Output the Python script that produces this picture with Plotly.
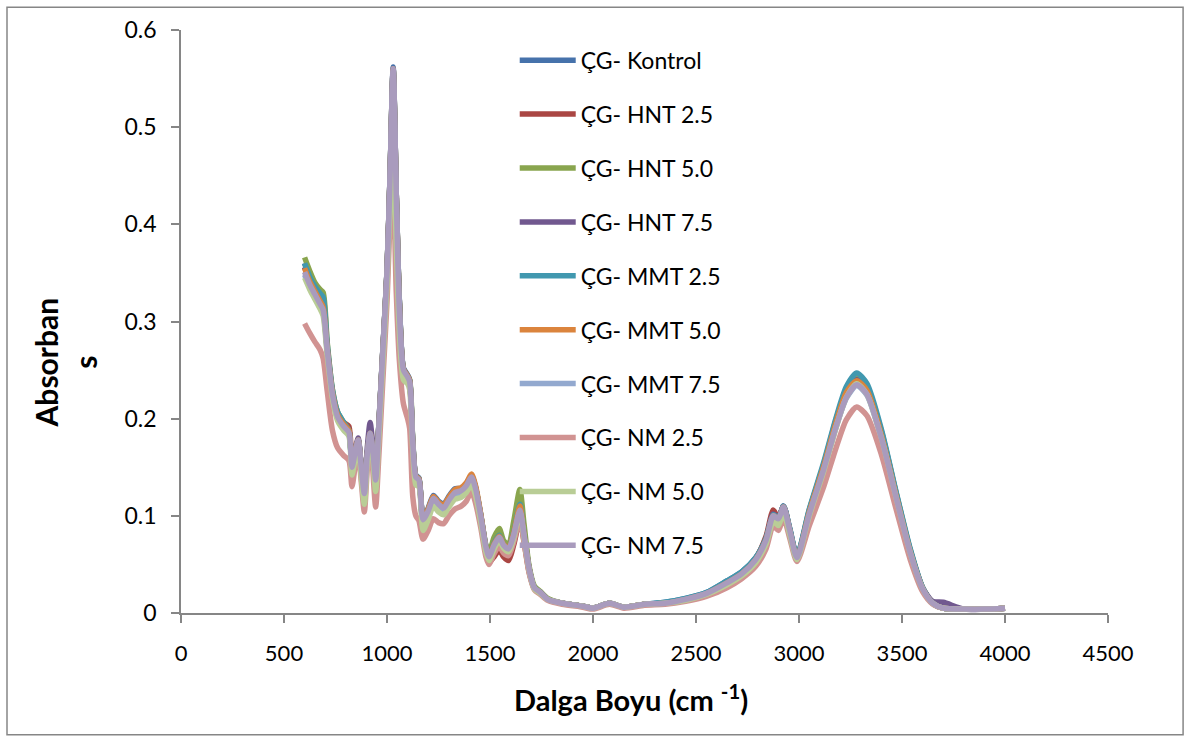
import plotly.graph_objects as go

WN = [600, 625, 650, 675, 690, 710, 735, 760, 790, 815,
      830, 845, 860, 875, 890, 905, 918, 930, 945, 960,
      980, 1000, 1015, 1030, 1045, 1060, 1080, 1100, 1110, 1125,
      1140, 1155, 1175, 1200, 1225, 1250, 1275, 1300, 1330, 1360,
      1385, 1410, 1430, 1455, 1480, 1495, 1520, 1545, 1565, 1590,
      1615, 1645, 1665, 1690, 1715, 1745, 1780, 1850, 1950, 2000,
      2080, 2150, 2250, 2350, 2450, 2550, 2650, 2720, 2790, 2840,
      2875, 2900, 2925, 2955, 2990, 3050, 3120, 3180, 3230, 3280,
      3330, 3400, 3470, 3540, 3600, 3650, 3700, 3800, 3900, 4000]

kontrol = [0.360, 0.345, 0.333, 0.322, 0.316, 0.272, 0.228, 0.205, 0.195, 0.188,
           0.152, 0.167, 0.178, 0.150, 0.124, 0.166, 0.186, 0.170, 0.138, 0.192,
           0.272, 0.352, 0.452, 0.562, 0.432, 0.322, 0.252, 0.245, 0.240, 0.178,
           0.142, 0.139, 0.098, 0.108, 0.121, 0.115, 0.112, 0.120, 0.128, 0.128,
           0.133, 0.141, 0.129, 0.101, 0.069, 0.058, 0.071, 0.080, 0.071, 0.067,
           0.084, 0.114, 0.084, 0.046, 0.026, 0.021, 0.014, 0.010, 0.007, 0.005,
           0.010, 0.006, 0.009, 0.011, 0.015, 0.021, 0.033, 0.042, 0.057, 0.077,
           0.101, 0.098, 0.110, 0.087, 0.059, 0.106, 0.153, 0.199, 0.230, 0.244,
           0.233, 0.187, 0.125, 0.065, 0.026, 0.010, 0.005, 0.004, 0.004, 0.005]

hnt25 = [0.356, 0.342, 0.331, 0.320, 0.314, 0.271, 0.226, 0.204, 0.196, 0.192,
         0.150, 0.165, 0.177, 0.148, 0.120, 0.164, 0.184, 0.168, 0.134, 0.188,
         0.268, 0.348, 0.448, 0.555, 0.428, 0.318, 0.248, 0.241, 0.236, 0.172,
         0.138, 0.135, 0.094, 0.104, 0.117, 0.111, 0.107, 0.115, 0.123, 0.125,
         0.130, 0.139, 0.126, 0.097, 0.063, 0.052, 0.058, 0.065, 0.058, 0.054,
         0.070, 0.096, 0.074, 0.042, 0.025, 0.020, 0.014, 0.010, 0.007, 0.005,
         0.010, 0.006, 0.009, 0.010, 0.014, 0.020, 0.031, 0.040, 0.056, 0.079,
         0.106, 0.098, 0.109, 0.085, 0.057, 0.103, 0.150, 0.195, 0.226, 0.239,
         0.228, 0.183, 0.122, 0.063, 0.025, 0.010, 0.005, 0.004, 0.004, 0.005]

hnt50 = [0.366, 0.352, 0.340, 0.333, 0.330, 0.278, 0.230, 0.207, 0.196, 0.188,
         0.151, 0.166, 0.178, 0.150, 0.123, 0.165, 0.185, 0.170, 0.137, 0.190,
         0.270, 0.350, 0.450, 0.558, 0.430, 0.320, 0.250, 0.243, 0.240, 0.177,
         0.141, 0.138, 0.097, 0.106, 0.118, 0.113, 0.109, 0.117, 0.125, 0.127,
         0.132, 0.141, 0.129, 0.101, 0.070, 0.062, 0.078, 0.087, 0.075, 0.070,
         0.094, 0.127, 0.092, 0.048, 0.028, 0.022, 0.015, 0.010, 0.007, 0.005,
         0.010, 0.006, 0.009, 0.010, 0.014, 0.020, 0.032, 0.041, 0.056, 0.076,
         0.100, 0.097, 0.109, 0.086, 0.058, 0.105, 0.152, 0.197, 0.229, 0.243,
         0.232, 0.186, 0.124, 0.064, 0.026, 0.010, 0.005, 0.004, 0.004, 0.005]

hnt75 = [0.356, 0.342, 0.331, 0.321, 0.315, 0.272, 0.227, 0.204, 0.194, 0.188,
         0.152, 0.167, 0.180, 0.152, 0.125, 0.172, 0.196, 0.176, 0.139, 0.192,
         0.271, 0.351, 0.451, 0.560, 0.431, 0.321, 0.251, 0.244, 0.239, 0.176,
         0.141, 0.138, 0.097, 0.106, 0.119, 0.113, 0.109, 0.117, 0.125, 0.127,
         0.132, 0.140, 0.128, 0.100, 0.067, 0.057, 0.068, 0.076, 0.068, 0.064,
         0.079, 0.105, 0.079, 0.045, 0.026, 0.021, 0.014, 0.010, 0.007, 0.005,
         0.010, 0.006, 0.009, 0.010, 0.014, 0.020, 0.032, 0.041, 0.056, 0.076,
         0.102, 0.098, 0.110, 0.086, 0.058, 0.104, 0.151, 0.196, 0.227, 0.240,
         0.229, 0.184, 0.123, 0.064, 0.026, 0.012, 0.011, 0.004, 0.004, 0.005]

mmt25 = [0.360, 0.346, 0.336, 0.329, 0.325, 0.276, 0.230, 0.207, 0.196, 0.188,
         0.151, 0.166, 0.178, 0.150, 0.123, 0.165, 0.185, 0.170, 0.137, 0.191,
         0.271, 0.351, 0.451, 0.560, 0.431, 0.321, 0.251, 0.244, 0.239, 0.176,
         0.141, 0.138, 0.097, 0.106, 0.119, 0.114, 0.110, 0.118, 0.126, 0.127,
         0.132, 0.141, 0.129, 0.101, 0.068, 0.058, 0.072, 0.080, 0.071, 0.067,
         0.083, 0.112, 0.083, 0.046, 0.026, 0.021, 0.014, 0.010, 0.007, 0.005,
         0.010, 0.006, 0.009, 0.011, 0.015, 0.021, 0.033, 0.042, 0.057, 0.077,
         0.101, 0.098, 0.110, 0.087, 0.059, 0.107, 0.155, 0.201, 0.233, 0.247,
         0.236, 0.189, 0.126, 0.066, 0.026, 0.010, 0.005, 0.004, 0.004, 0.005]

mmt50 = [0.355, 0.341, 0.331, 0.321, 0.315, 0.272, 0.227, 0.204, 0.194, 0.188,
         0.151, 0.166, 0.178, 0.150, 0.123, 0.165, 0.185, 0.170, 0.137, 0.191,
         0.271, 0.351, 0.451, 0.560, 0.431, 0.321, 0.251, 0.244, 0.239, 0.176,
         0.141, 0.138, 0.097, 0.107, 0.120, 0.114, 0.111, 0.119, 0.127, 0.129,
         0.134, 0.143, 0.131, 0.102, 0.068, 0.058, 0.071, 0.079, 0.071, 0.067,
         0.082, 0.110, 0.082, 0.046, 0.026, 0.021, 0.014, 0.010, 0.007, 0.005,
         0.010, 0.006, 0.009, 0.010, 0.014, 0.020, 0.031, 0.040, 0.055, 0.075,
         0.100, 0.097, 0.109, 0.085, 0.057, 0.104, 0.151, 0.196, 0.227, 0.239,
         0.229, 0.183, 0.122, 0.063, 0.025, 0.010, 0.005, 0.004, 0.004, 0.005]

mmt75 = [0.348, 0.335, 0.325, 0.315, 0.309, 0.268, 0.223, 0.200, 0.190, 0.184,
         0.148, 0.163, 0.176, 0.148, 0.120, 0.163, 0.183, 0.168, 0.134, 0.188,
         0.268, 0.348, 0.448, 0.558, 0.428, 0.318, 0.248, 0.241, 0.236, 0.173,
         0.138, 0.135, 0.093, 0.101, 0.113, 0.106, 0.103, 0.111, 0.119, 0.122,
         0.127, 0.136, 0.125, 0.097, 0.066, 0.056, 0.068, 0.076, 0.069, 0.065,
         0.079, 0.104, 0.079, 0.045, 0.026, 0.021, 0.014, 0.010, 0.007, 0.005,
         0.010, 0.006, 0.009, 0.010, 0.014, 0.020, 0.030, 0.039, 0.054, 0.074,
         0.099, 0.096, 0.108, 0.084, 0.056, 0.101, 0.147, 0.191, 0.221, 0.234,
         0.224, 0.179, 0.119, 0.061, 0.024, 0.010, 0.005, 0.004, 0.004, 0.005]

nm25 = [0.298, 0.288, 0.279, 0.271, 0.262, 0.228, 0.188, 0.170, 0.162, 0.157,
        0.130, 0.150, 0.165, 0.135, 0.104, 0.150, 0.176, 0.150, 0.109, 0.160,
        0.240, 0.320, 0.400, 0.430, 0.330, 0.260, 0.215, 0.200, 0.190, 0.120,
        0.100, 0.095, 0.076, 0.085, 0.097, 0.093, 0.092, 0.100, 0.107, 0.110,
        0.115, 0.125, 0.113, 0.088, 0.058, 0.050, 0.061, 0.069, 0.062, 0.059,
        0.073, 0.096, 0.073, 0.041, 0.024, 0.019, 0.013, 0.009, 0.006, 0.004,
        0.009, 0.005, 0.008, 0.009, 0.012, 0.017, 0.026, 0.035, 0.048, 0.066,
        0.090, 0.085, 0.098, 0.077, 0.053, 0.090, 0.130, 0.170, 0.199, 0.212,
        0.203, 0.163, 0.108, 0.055, 0.022, 0.009, 0.005, 0.004, 0.004, 0.005]

nm50 = [0.345, 0.333, 0.323, 0.313, 0.306, 0.265, 0.221, 0.198, 0.188, 0.182,
        0.142, 0.158, 0.171, 0.140, 0.112, 0.158, 0.180, 0.162, 0.125, 0.180,
        0.258, 0.338, 0.420, 0.460, 0.380, 0.290, 0.240, 0.236, 0.230, 0.168,
        0.132, 0.130, 0.085, 0.096, 0.110, 0.104, 0.101, 0.109, 0.117, 0.119,
        0.124, 0.132, 0.121, 0.094, 0.063, 0.054, 0.066, 0.075, 0.067, 0.063,
        0.077, 0.104, 0.078, 0.044, 0.025, 0.020, 0.014, 0.010, 0.007, 0.005,
        0.010, 0.006, 0.009, 0.010, 0.013, 0.019, 0.029, 0.038, 0.052, 0.071,
        0.094, 0.090, 0.103, 0.081, 0.055, 0.100, 0.146, 0.191, 0.222, 0.236,
        0.225, 0.180, 0.120, 0.062, 0.025, 0.010, 0.005, 0.004, 0.004, 0.005]

nm75 = [0.351, 0.338, 0.328, 0.318, 0.312, 0.270, 0.225, 0.202, 0.192, 0.186,
        0.150, 0.165, 0.178, 0.150, 0.123, 0.165, 0.185, 0.170, 0.137, 0.190,
        0.270, 0.350, 0.450, 0.560, 0.430, 0.310, 0.250, 0.243, 0.238, 0.175,
        0.140, 0.137, 0.096, 0.105, 0.118, 0.112, 0.108, 0.116, 0.124, 0.126,
        0.131, 0.140, 0.128, 0.100, 0.068, 0.058, 0.070, 0.078, 0.070, 0.066,
        0.080, 0.106, 0.080, 0.045, 0.026, 0.021, 0.014, 0.010, 0.007, 0.005,
        0.010, 0.006, 0.009, 0.010, 0.014, 0.020, 0.031, 0.040, 0.055, 0.075,
        0.100, 0.097, 0.109, 0.085, 0.057, 0.102, 0.148, 0.192, 0.222, 0.235,
        0.225, 0.180, 0.120, 0.062, 0.025, 0.010, 0.005, 0.004, 0.004, 0.005]

series_names = ["ÇG- Kontrol", "ÇG- HNT 2.5", "ÇG- HNT 5.0", "ÇG- HNT 7.5",
                "ÇG- MMT 2.5", "ÇG- MMT 5.0", "ÇG- MMT 7.5",
                "ÇG- NM 2.5", "ÇG- NM 5.0", "ÇG- NM 7.5"]
series_values = [kontrol, hnt25, hnt50, hnt75, mmt25, mmt50, mmt75, nm25, nm50, nm75]
series_colors = ["#4672AB", "#AA4643", "#89A54E", "#71588F", "#4198AF",
                 "#DB843D", "#93A9CF", "#D19392", "#B9CD96", "#A99BBD"]

x_ticks = [0, 500, 1000, 1500, 2000, 2500, 3000, 3500, 4000, 4500]
y_ticks = [0, 0.1, 0.2, 0.3, 0.4, 0.5, 0.6]

FONT = "Lato, 'Open Sans', sans-serif"

fig = go.Figure()
for i, (name, vals, col) in enumerate(zip(series_names, series_values, series_colors)):
    fig.add_trace(go.Scatter(
        x=WN, y=vals, mode="lines", name=name,
        line=dict(color=col, width=5.5, shape="spline", smoothing=0.7),
        legendgroup="g%d" % i,
    ))

axis_col = "#868686"
fig.update_layout(
    width=1189, height=742,
    margin=dict(l=181, r=81, t=30, b=129),
    paper_bgcolor="white", plot_bgcolor="white",
    font=dict(family=FONT, size=22, color="black"),
    showlegend=True,
    legend=dict(
        x=0.36, y=0.985, xanchor="left", yanchor="top",
        bgcolor="rgba(0,0,0,0)", borderwidth=0,
        font=dict(family=FONT, size=23, color="black"),
        tracegroupgap=21, traceorder="grouped",
        itemwidth=56,
    ),
    xaxis=dict(
        range=[0, 4500], tickvals=x_ticks, ticktext=[str(v) for v in x_ticks],
        showgrid=False, zeroline=False,
        showline=True, linecolor=axis_col, linewidth=1.5,
        ticks="outside", ticklen=8, tickcolor=axis_col, tickwidth=1.5,
        ticklabelstandoff=12,
        tickfont=dict(family=FONT, size=22, color="black"),
    ),
    yaxis=dict(
        range=[0, 0.6], tickvals=y_ticks, ticktext=["0", "0.1", "0.2", "0.3", "0.4", "0.5", "0.6"],
        showgrid=False, zeroline=False,
        showline=True, linecolor=axis_col, linewidth=1.5,
        ticks="outside", ticklen=8, tickcolor=axis_col, tickwidth=1.5,
        ticklabelstandoff=10,
        tickfont=dict(family=FONT, size=23, color="black"),
    ),
    annotations=[
        dict(text="<b>Dalga Boyu (cm <sup>-1</sup>)</b>", xref="paper", yref="paper",
             x=0.485, y=-0.145, xanchor="center", yanchor="middle", showarrow=False,
             font=dict(family=FONT, size=29, color="black")),
        dict(text="<b>Absorban<br>s</b>", xref="paper", yref="paper",
             x=-0.125, y=0.43, xanchor="center", yanchor="middle", showarrow=False,
             textangle=-90, font=dict(family=FONT, size=30, color="black")),
    ],
    shapes=[
        dict(type="rect", xref="paper", yref="paper",
             x0=-0.1877, x1=1.081, y0=-0.209, y1=1.039,
             line=dict(color="#868686", width=1.5), fillcolor="rgba(0,0,0,0)", layer="below"),
    ],
)

fig.write_html("out.html", config={"displayModeBar": False},
               post_script="document.body.style.margin='0px';document.body.style.overflow='hidden';")
